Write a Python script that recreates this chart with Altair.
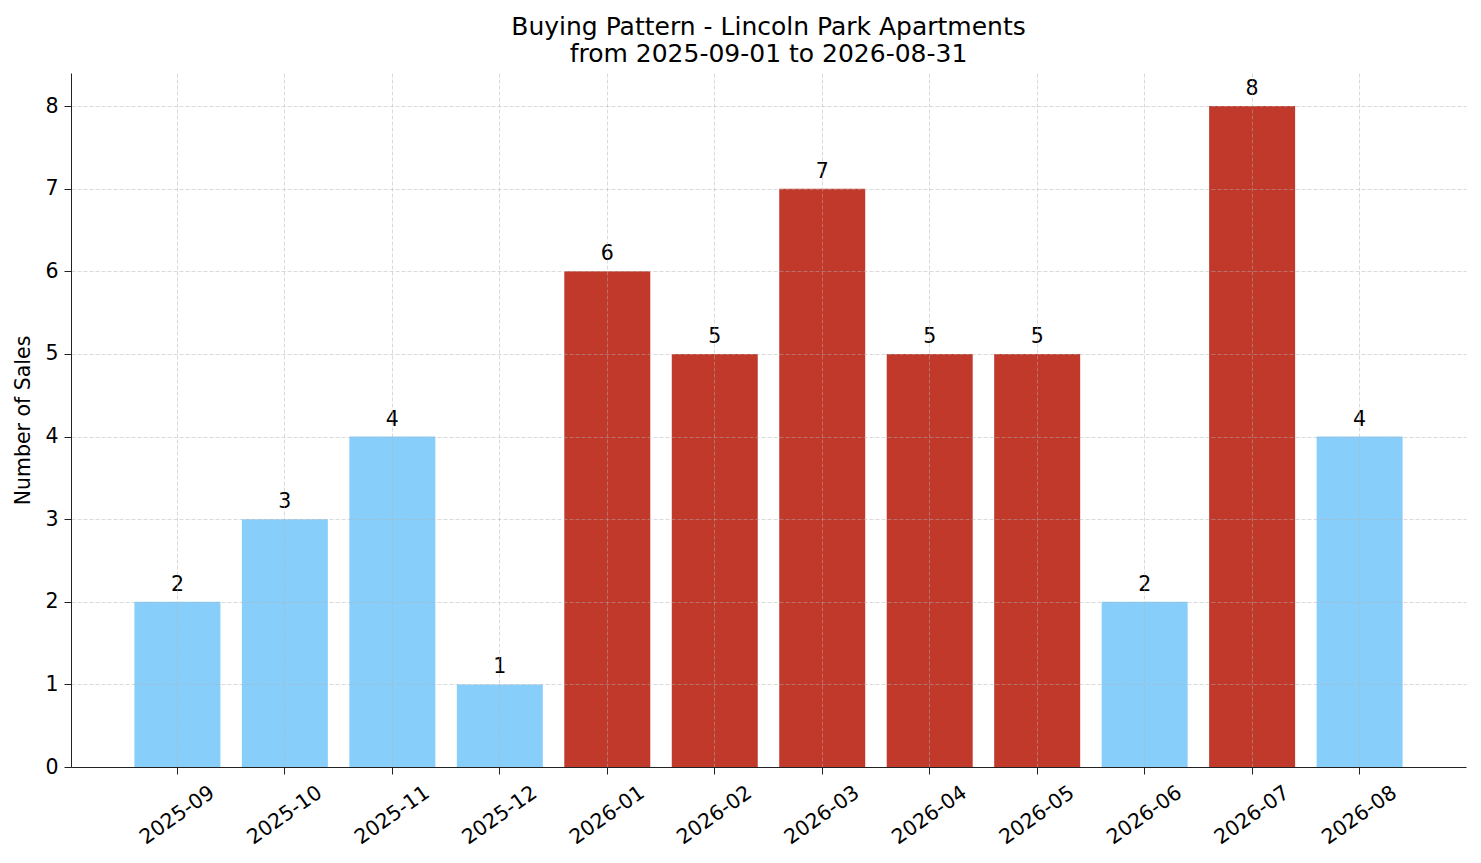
import altair as alt
import pandas as pd

months = ["2025-09", "2025-10", "2025-11", "2025-12", "2026-01", "2026-02",
          "2026-03", "2026-04", "2026-05", "2026-06", "2026-07", "2026-08"]
sales = [2, 3, 4, 1, 6, 5, 7, 5, 5, 2, 8, 4]
y_ticks = [0, 1, 2, 3, 4, 5, 6, 7, 8]

HIGH = "#C0392B"
LOW = "#87CEFA"
FONT = "DejaVu Sans"

data = pd.DataFrame({"month": months, "sales": sales})

x = alt.X(
    "month:N",
    sort=months,
    title=None,
    scale=alt.Scale(paddingInner=0.2, paddingOuter=0.59),
    axis=alt.Axis(
        labelAngle=325,
        labelAlign="center",
        labelBaseline="middle",
        labelPadding=41,
        labelFontSize=20.5,
        labelColor="#000000",
        tickSize=7,
        tickColor="#222222",
        domainColor="#222222",
        grid=True,
        gridColor="#b0b0b0",
        gridOpacity=0.6,
        gridDash=[4, 2],
        gridWidth=0.8,
        bandPosition=0.5,
        zindex=1,
    ),
)
y = alt.Y(
    "sales:Q",
    title="Number of Sales",
    scale=alt.Scale(domain=[0, 8.4], nice=False),
    axis=alt.Axis(
        values=y_ticks,
        labelFontSize=20.5,
        labelColor="#000000",
        labelPadding=6,
        tickSize=7,
        tickColor="#222222",
        domainColor="#222222",
        titleFontSize=20.5,
        titleFontWeight="normal",
        titleColor="#000000",
        titlePadding=11,
        gridColor="#b0b0b0",
        gridOpacity=0.6,
        gridDash=[4, 2],
        gridWidth=0.8,
        zindex=1,
    ),
)

base = alt.Chart(data).encode(x=x, y=y)

bars = base.mark_bar().encode(
    color=alt.condition(alt.datum.sales >= 5, alt.value(HIGH), alt.value(LOW))
)
labels = base.mark_text(
    baseline="alphabetic", dy=-11, fontSize=20.5, font=FONT, color="#000000"
).encode(text="sales:Q")

chart = (
    (bars + labels)
    .properties(
        width=1395,
        height=694,
        autosize=alt.AutoSizeParams(type="none"),
        padding={"left": 63, "top": 65, "right": 7, "bottom": 88},
        title=alt.TitleParams(
            ["Buying Pattern - Lincoln Park Apartments", "from 2025-09-01 to 2026-08-31"],
            fontSize=25,
            font=FONT,
            fontWeight="normal",
            color="#000000",
            anchor="middle",
            offset=6,
            lineHeight=27,
        ),
    )
    .configure(font=FONT)
    .configure_view(strokeOpacity=0)
    .configure_axis(labelFont=FONT, titleFont=FONT)
)

chart.save("out.html", embed_options={"renderer": "svg", "actions": False})
